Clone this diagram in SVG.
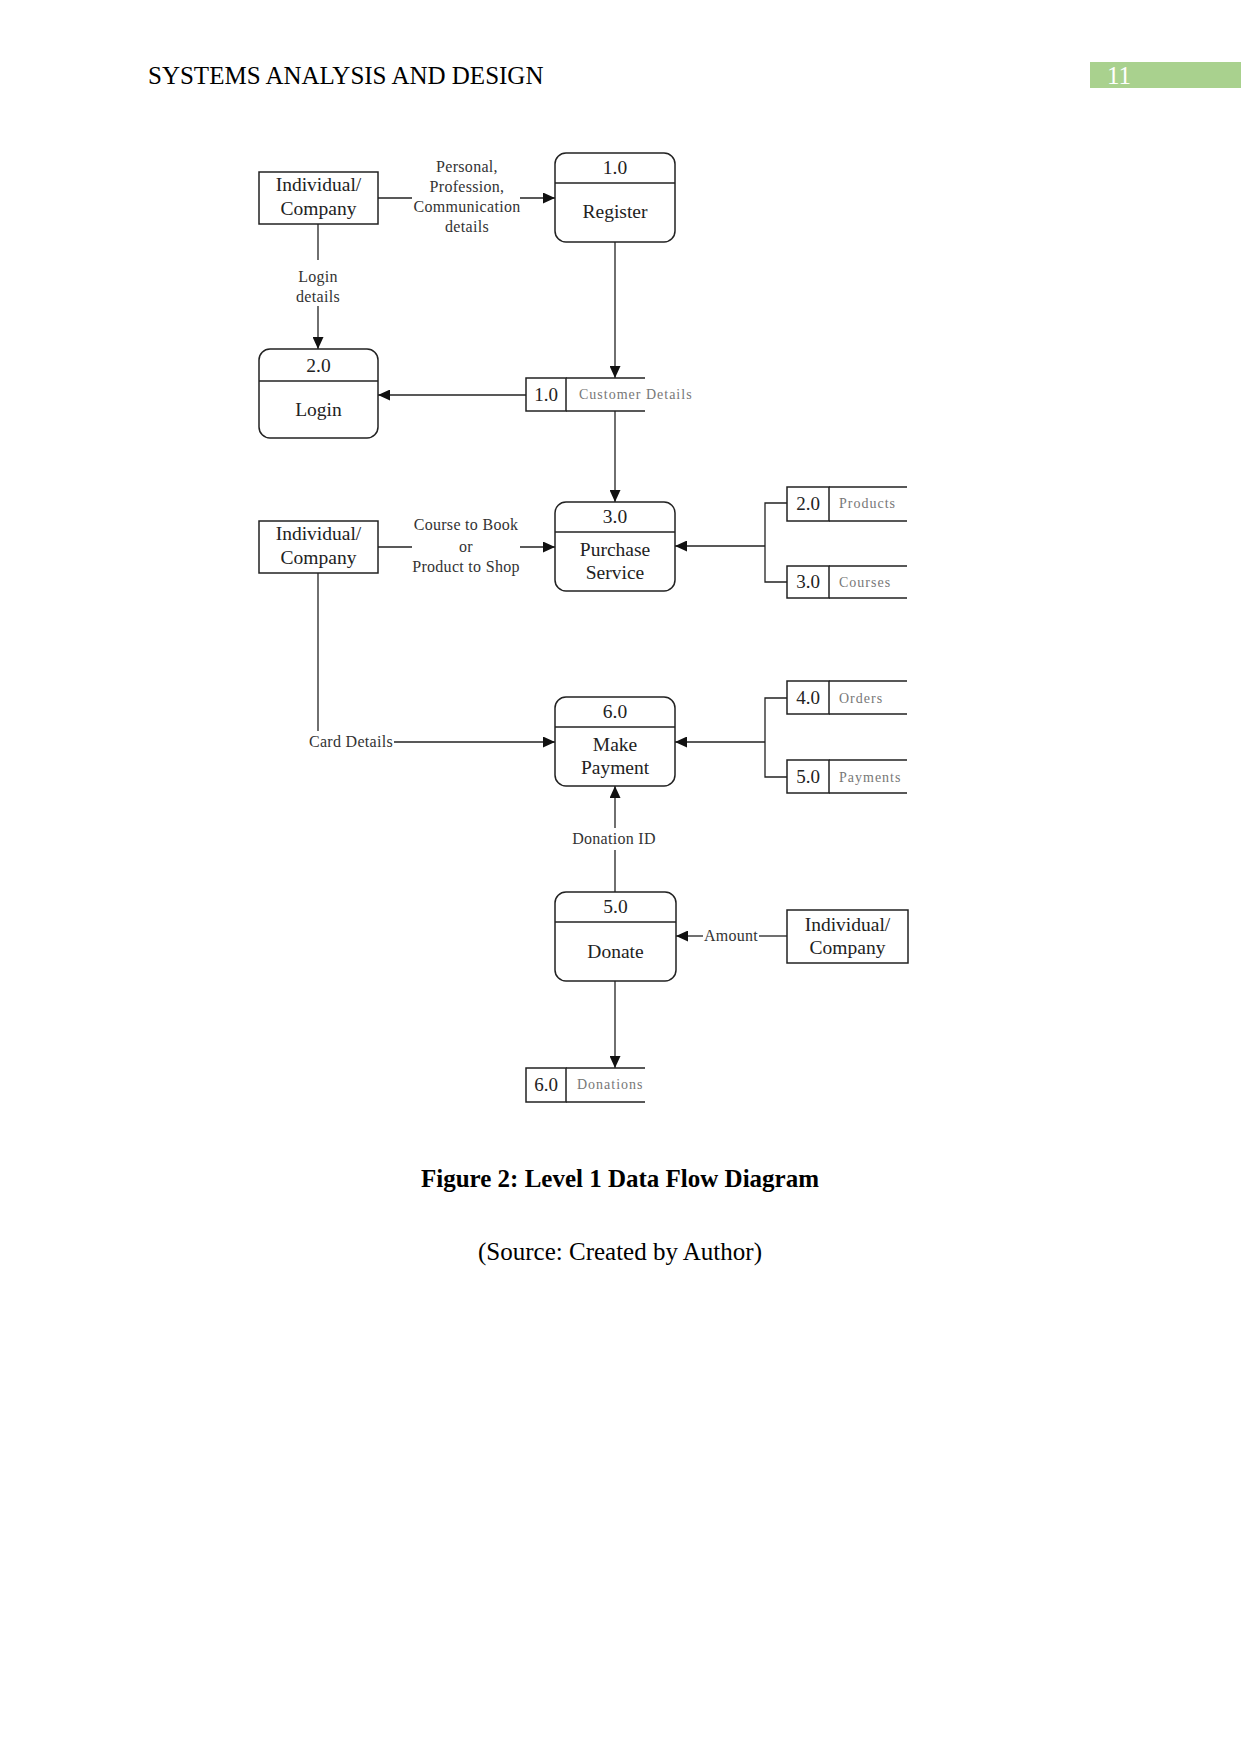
<svg xmlns="http://www.w3.org/2000/svg" width="1241" height="1754" viewBox="0 0 1241 1754">
<style>
  .page{font-family:"Liberation Serif","Times New Roman",serif;fill:#000}
  .proc{fill:#fff;stroke:#222;stroke-width:1.5}
  .ent{fill:#fff;stroke:#222;stroke-width:1.5}
  .div{stroke:#222;stroke-width:1.5;fill:none}
  .ln{stroke:#222;stroke-width:1.3;fill:none}
  .arr{marker-end:url(#ah)}
  .t{font-family:"Liberation Serif","Times New Roman",serif;font-size:19.5px;fill:#222;text-anchor:middle}
  .lbl{font-family:"Liberation Serif","Times New Roman",serif;font-size:16px;fill:#333;text-anchor:middle;letter-spacing:0.3px}
  .sn{font-family:"Liberation Serif","Times New Roman",serif;font-size:19px;fill:#222;text-anchor:middle}
  .sl{font-family:"Liberation Serif","Times New Roman",serif;font-size:14px;fill:#777;letter-spacing:1px}
</style>
<defs>
  <marker id="ah" markerUnits="userSpaceOnUse" markerWidth="13" markerHeight="11" refX="12" refY="5.5" orient="auto">
    <path d="M0,0 L12,5.5 L0,11 z" fill="#111"/>
  </marker>
</defs>
<rect width="1241" height="1754" fill="#fff"/>

<!-- header -->
<text class="page" x="148" y="84" font-size="25">SYSTEMS ANALYSIS AND DESIGN</text>
<rect x="1090" y="62" width="151" height="26" fill="#a9d18e"/>
<text x="1107" y="84" font-family="Liberation Serif, serif" font-size="25" fill="#fff">11</text>

<!-- connectors -->
<g id="connectors">
  <line class="ln" x1="378" y1="198" x2="412" y2="198"/>
  <line class="ln arr" x1="520" y1="198" x2="555" y2="198"/>
  <line class="ln" x1="318" y1="224" x2="318" y2="260"/>
  <line class="ln arr" x1="318" y1="306" x2="318" y2="349"/>
  <line class="ln arr" x1="615" y1="242" x2="615" y2="378"/>
  <line class="ln arr" x1="526" y1="395" x2="378" y2="395"/>
  <line class="ln arr" x1="615" y1="411" x2="615" y2="502"/>
  <line class="ln" x1="378" y1="547" x2="412" y2="547"/>
  <line class="ln arr" x1="520" y1="547" x2="555" y2="547"/>
  <path class="ln" d="M787,503 H765 V582 H787"/>
  <line class="ln arr" x1="765" y1="546" x2="675" y2="546"/>
  <line class="ln" x1="318" y1="573" x2="318" y2="731"/>
  <line class="ln arr" x1="394" y1="742" x2="555" y2="742"/>
  <path class="ln" d="M787,698 H765 V777 H787"/>
  <line class="ln arr" x1="765" y1="742" x2="675" y2="742"/>
  <line class="ln" x1="615" y1="892" x2="615" y2="850"/>
  <line class="ln arr" x1="615" y1="828" x2="615" y2="786"/>
  <line class="ln" x1="787" y1="936" x2="759" y2="936"/>
  <line class="ln arr" x1="703" y1="936" x2="676" y2="936"/>
  <line class="ln arr" x1="615" y1="981" x2="615" y2="1068"/>

  <text class="lbl" x="467" y="172">Personal,</text>
  <text class="lbl" x="467" y="192">Profession,</text>
  <text class="lbl" x="467" y="212">Communication</text>
  <text class="lbl" x="467" y="232">details</text>
  <text class="lbl" x="318" y="282">Login</text>
  <text class="lbl" x="318" y="302">details</text>
  <text class="lbl" x="466" y="530">Course to Book</text>
  <text class="lbl" x="466" y="552">or</text>
  <text class="lbl" x="466" y="572">Product to Shop</text>
  <text class="lbl" x="393" y="747" style="text-anchor:end">Card Details</text>
  <text class="lbl" x="614" y="844">Donation ID</text>
  <text class="lbl" x="731" y="941">Amount</text>
</g>

<g id="entity1">
  <rect class="ent" x="259" y="172" width="119" height="52"/>
  <text class="t" x="318.5" y="191">Individual/</text>
  <text class="t" x="318.5" y="215">Company</text>
</g>
<g id="entity2">
  <rect class="ent" x="259" y="521" width="119" height="52"/>
  <text class="t" x="318.5" y="540">Individual/</text>
  <text class="t" x="318.5" y="564">Company</text>
</g>
<g id="entity3">
  <rect class="ent" x="787" y="910" width="121" height="53"/>
  <text class="t" x="847.5" y="931">Individual/</text>
  <text class="t" x="847.5" y="954">Company</text>
</g>

<g id="p1">
  <rect class="proc" x="555" y="153" width="120" height="89" rx="11"/>
  <line class="div" x1="555" y1="183" x2="675" y2="183"/>
  <text class="t" x="615" y="174">1.0</text>
  <text class="t" x="615" y="218">Register</text>
</g>
<g id="p2">
  <rect class="proc" x="259" y="349" width="119" height="89" rx="11"/>
  <line class="div" x1="259" y1="381" x2="378" y2="381"/>
  <text class="t" x="318.5" y="372">2.0</text>
  <text class="t" x="318.5" y="416">Login</text>
</g>
<g id="p3">
  <rect class="proc" x="555" y="502" width="120" height="89" rx="11"/>
  <line class="div" x1="555" y1="532" x2="675" y2="532"/>
  <text class="t" x="615" y="523">3.0</text>
  <text class="t" x="615" y="556">Purchase</text>
  <text class="t" x="615" y="579">Service</text>
</g>
<g id="p6">
  <rect class="proc" x="555" y="697" width="120" height="89" rx="11"/>
  <line class="div" x1="555" y1="727" x2="675" y2="727"/>
  <text class="t" x="615" y="718">6.0</text>
  <text class="t" x="615" y="751">Make</text>
  <text class="t" x="615" y="774">Payment</text>
</g>
<g id="p5">
  <rect class="proc" x="555" y="892" width="121" height="89" rx="11"/>
  <line class="div" x1="555" y1="922" x2="676" y2="922"/>
  <text class="t" x="615.5" y="913">5.0</text>
  <text class="t" x="615.5" y="958">Donate</text>
</g>

<g id="ds1">
  <rect class="div" x="526" y="378" width="40" height="33" fill="#fff"/>
  <path class="div" d="M566,378 H645 M566,411 H645"/>
  <text class="sn" x="546" y="401">1.0</text>
  <text class="sl" x="579" y="399">Customer Details</text>
</g>
<g id="ds2">
  <rect class="div" x="787" y="487" width="42" height="34" fill="#fff"/>
  <path class="div" d="M829,487 H907 M829,521 H907"/>
  <text class="sn" x="808" y="510">2.0</text>
  <text class="sl" x="839" y="508">Products</text>
</g>
<g id="ds3">
  <rect class="div" x="787" y="566" width="42" height="32" fill="#fff"/>
  <path class="div" d="M829,566 H907 M829,598 H907"/>
  <text class="sn" x="808" y="588">3.0</text>
  <text class="sl" x="839" y="587">Courses</text>
</g>
<g id="ds4">
  <rect class="div" x="787" y="681" width="42" height="33" fill="#fff"/>
  <path class="div" d="M829,681 H907 M829,714 H907"/>
  <text class="sn" x="808" y="704">4.0</text>
  <text class="sl" x="839" y="703">Orders</text>
</g>
<g id="ds5">
  <rect class="div" x="787" y="760" width="42" height="33" fill="#fff"/>
  <path class="div" d="M829,760 H907 M829,793 H907"/>
  <text class="sn" x="808" y="783">5.0</text>
  <text class="sl" x="839" y="782">Payments</text>
</g>
<g id="ds6">
  <rect class="div" x="526" y="1068" width="40" height="34" fill="#fff"/>
  <path class="div" d="M566,1068 H645 M566,1102 H645"/>
  <text class="sn" x="546" y="1091">6.0</text>
  <text class="sl" x="577" y="1089">Donations</text>
</g>

<text class="page" x="620" y="1187" font-size="25" font-weight="bold" text-anchor="middle">Figure 2: Level 1 Data Flow Diagram</text>
<text class="page" x="620" y="1260" font-size="25" text-anchor="middle">(Source: Created by Author)</text>
</svg>
